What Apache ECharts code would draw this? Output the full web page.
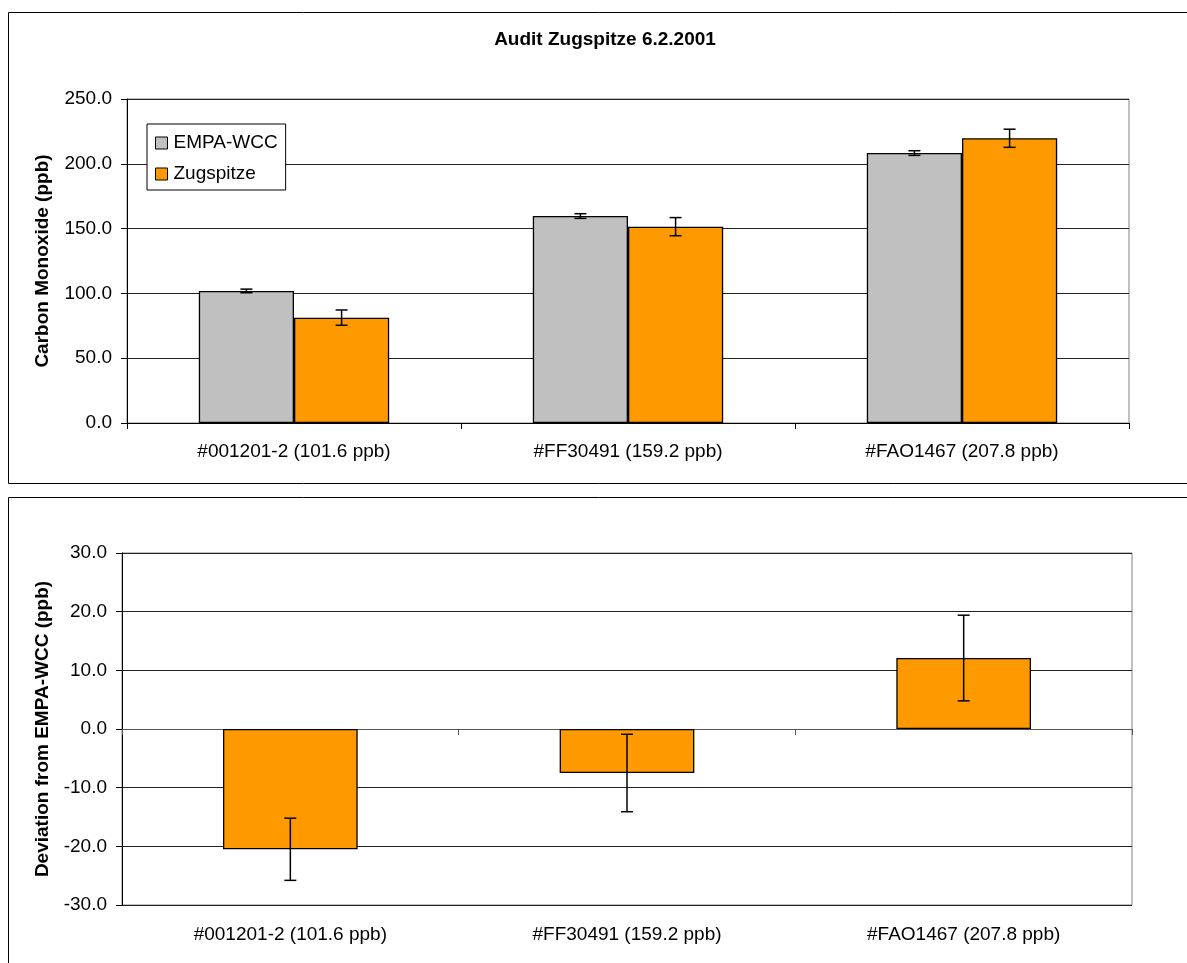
<!DOCTYPE html>
<html>
<head>
<meta charset="utf-8">
<script src="https://cdn.jsdelivr.net/npm/echarts@6/dist/echarts.min.js"></script>
<style>
html,body{margin:0;padding:0;background:#fff;}
#chart{width:1187px;height:963px;}
</style>
</head>
<body>
<div id="chart"></div>
<script>
// ---- data ----
var categories = ['#001201-2 (101.6 ppb)', '#FF30491 (159.2 ppb)', '#FAO1467 (207.8 ppb)'];
var seriesNames = ['EMPA-WCC', 'Zugspitze'];
var empaValues = [101.9, 159.7, 208.3];
var empaErr = [1.4, 1.8, 1.8];
var zugValues = [81.3, 151.5, 219.7];
var zugErr = [5.9, 7.0, 7.0];
var devValues = [-20.5, -7.5, 12.1];
var devErr = [5.3, 6.6, 7.3];
var topTicks = {min: 0, max: 250, interval: 50};
var bottomTicks = {min: -30, max: 30, interval: 10};
var titleText = 'Audit Zugspitze 6.2.2001';
var topYName = 'Carbon Monoxide (ppb)';
var bottomYName = 'Deviation from EMPA-WCC (ppb)';

var FONT = "'Liberation Sans', Arial, sans-serif";
var GREY = '#C0C0C0', ORANGE = '#FF9900';
var TOP_GAP = 0.43, BOT_GAP = 0.60;

function errData(vals, errs) {
  return vals.map(function (v, i) { return [i, v - errs[i], v + errs[i]]; });
}
function errRender(offsetFrac, gapFrac, nBars) {
  return function (params, api) {
    var i = api.value(0);
    var lo = api.coord([i, api.value(1)]);
    var hi = api.coord([i, api.value(2)]);
    var catW = api.size([1, 0])[0];
    var bw = catW * (1 - gapFrac) / nBars;
    var x = lo[0] + offsetFrac * bw;
    var cap = 6;
    var st = {stroke: '#000', lineWidth: 1.5};
    return {
      type: 'group',
      children: [
        {type: 'line', shape: {x1: x, y1: lo[1], x2: x, y2: hi[1]}, style: st},
        {type: 'line', shape: {x1: x - cap, y1: lo[1], x2: x + cap, y2: lo[1]}, style: st},
        {type: 'line', shape: {x1: x - cap, y1: hi[1], x2: x + cap, y2: hi[1]}, style: st}
      ]
    };
  };
}

var chart = echarts.init(document.getElementById('chart'));
var labelStyle = {color: '#000', fontFamily: FONT, fontSize: 19};
var nameStyle = {color: '#000', fontFamily: FONT, fontSize: 19, fontWeight: 'bold'};

var option = {
  animation: false,
  backgroundColor: '#fff',
  textStyle: {fontFamily: FONT},
  title: {
    text: titleText, left: 605, top: 30, padding: 0, textAlign: 'center',
    textStyle: {color: '#000', fontFamily: FONT, fontSize: 19, fontWeight: 'bold'}
  },
  graphic: [
    {type: 'rect', shape: {x: 8.5, y: 12.5, width: 1200, height: 471}, style: {fill: 'none', stroke: '#000', lineWidth: 1}, silent: true, z: 0},
    {type: 'rect', shape: {x: 8.5, y: 497.5, width: 1200, height: 500}, style: {fill: 'none', stroke: '#000', lineWidth: 1}, silent: true, z: 0}
  ],
  legend: {
    data: seriesNames,
    orient: 'vertical',
    left: 147, top: 124,
    itemWidth: 12, itemHeight: 12, itemGap: 12,
    padding: [9.5, 8, 6.5, 8],
    backgroundColor: '#fff',
    borderColor: '#000', borderWidth: 1,
    textStyle: {color: '#000', fontFamily: FONT, fontSize: 19, padding: [0, 0, 0, 1]},
    icon: 'rect',
    itemStyle: {borderColor: '#000', borderWidth: 1}
  },
  grid: [
    {left: 127, right: 58, top: 99, bottom: 540, show: true, borderColor: '#808080', borderWidth: 1, backgroundColor: 'transparent'},
    {left: 122, right: 55, top: 553, bottom: 58, show: true, borderColor: '#808080', borderWidth: 1, backgroundColor: 'transparent'}
  ],
  xAxis: [
    {
      type: 'category', gridIndex: 0, data: categories,
      axisLine: {lineStyle: {color: '#000', width: 1}},
      axisTick: {show: true, length: 6, lineStyle: {color: '#000'}},
      axisLabel: Object.assign({margin: 19}, labelStyle),
      splitLine: {show: false}
    },
    {
      type: 'category', gridIndex: 1, data: categories,
      axisLine: {onZero: true, lineStyle: {color: '#555', width: 1}},
      axisTick: {show: true, length: 6, lineStyle: {color: '#555'}},
      axisLabel: {show: false},
      splitLine: {show: false}
    },
    {
      type: 'category', gridIndex: 1, data: categories, position: 'bottom',
      axisLine: {show: false, onZero: false},
      axisTick: {show: false},
      axisLabel: Object.assign({margin: 20}, labelStyle),
      splitLine: {show: false}
    }
  ],
  yAxis: [
    {
      type: 'value', gridIndex: 0, min: topTicks.min, max: topTicks.max, interval: topTicks.interval,
      name: topYName, nameLocation: 'middle', nameGap: 75, nameTextStyle: nameStyle,
      axisLine: {show: true, lineStyle: {color: '#000'}},
      axisTick: {show: true, length: 6, lineStyle: {color: '#000'}},
      axisLabel: Object.assign({margin: 15, formatter: function (v) { return v.toFixed(1); }}, labelStyle),
      splitLine: {show: true, lineStyle: {color: '#222', width: 1}}
    },
    {
      type: 'value', gridIndex: 1, min: bottomTicks.min, max: bottomTicks.max, interval: bottomTicks.interval,
      name: bottomYName, nameLocation: 'middle', nameGap: 70, nameTextStyle: nameStyle,
      axisLine: {show: true, onZero: false, lineStyle: {color: '#000'}},
      axisTick: {show: true, length: 6, lineStyle: {color: '#000'}},
      axisLabel: Object.assign({margin: 15, formatter: function (v) { return v.toFixed(1); }}, labelStyle),
      splitLine: {show: true, lineStyle: {color: '#222', width: 1}}
    }
  ],
  series: [
    {
      name: seriesNames[0], type: 'bar', xAxisIndex: 0, yAxisIndex: 0, data: empaValues,
      barGap: '0%', barCategoryGap: (TOP_GAP * 100) + '%',
      itemStyle: {color: GREY, borderColor: '#000', borderWidth: 1.3}, z: 2
    },
    {
      name: seriesNames[1], type: 'bar', xAxisIndex: 0, yAxisIndex: 0, data: zugValues,
      barGap: '0%', barCategoryGap: (TOP_GAP * 100) + '%',
      itemStyle: {color: ORANGE, borderColor: '#000', borderWidth: 1.3}, z: 2
    },
    {
      type: 'custom', xAxisIndex: 0, yAxisIndex: 0, data: errData(empaValues, empaErr),
      encode: {x: 0, y: [1, 2]}, renderItem: errRender(-0.5, TOP_GAP, 2), z: 5, silent: true
    },
    {
      type: 'custom', xAxisIndex: 0, yAxisIndex: 0, data: errData(zugValues, zugErr),
      encode: {x: 0, y: [1, 2]}, renderItem: errRender(0.5, TOP_GAP, 2), z: 5, silent: true
    },
    {
      name: 'Deviation', type: 'bar', xAxisIndex: 1, yAxisIndex: 1, data: devValues,
      barCategoryGap: (BOT_GAP * 100) + '%',
      itemStyle: {color: ORANGE, borderColor: '#000', borderWidth: 1.3}, z: 2
    },
    {
      type: 'custom', xAxisIndex: 1, yAxisIndex: 1, data: errData(devValues, devErr),
      encode: {x: 0, y: [1, 2]}, renderItem: errRender(0, BOT_GAP, 1), z: 5, silent: true
    }
  ]
};
chart.setOption(option);
</script>
</body>
</html>
